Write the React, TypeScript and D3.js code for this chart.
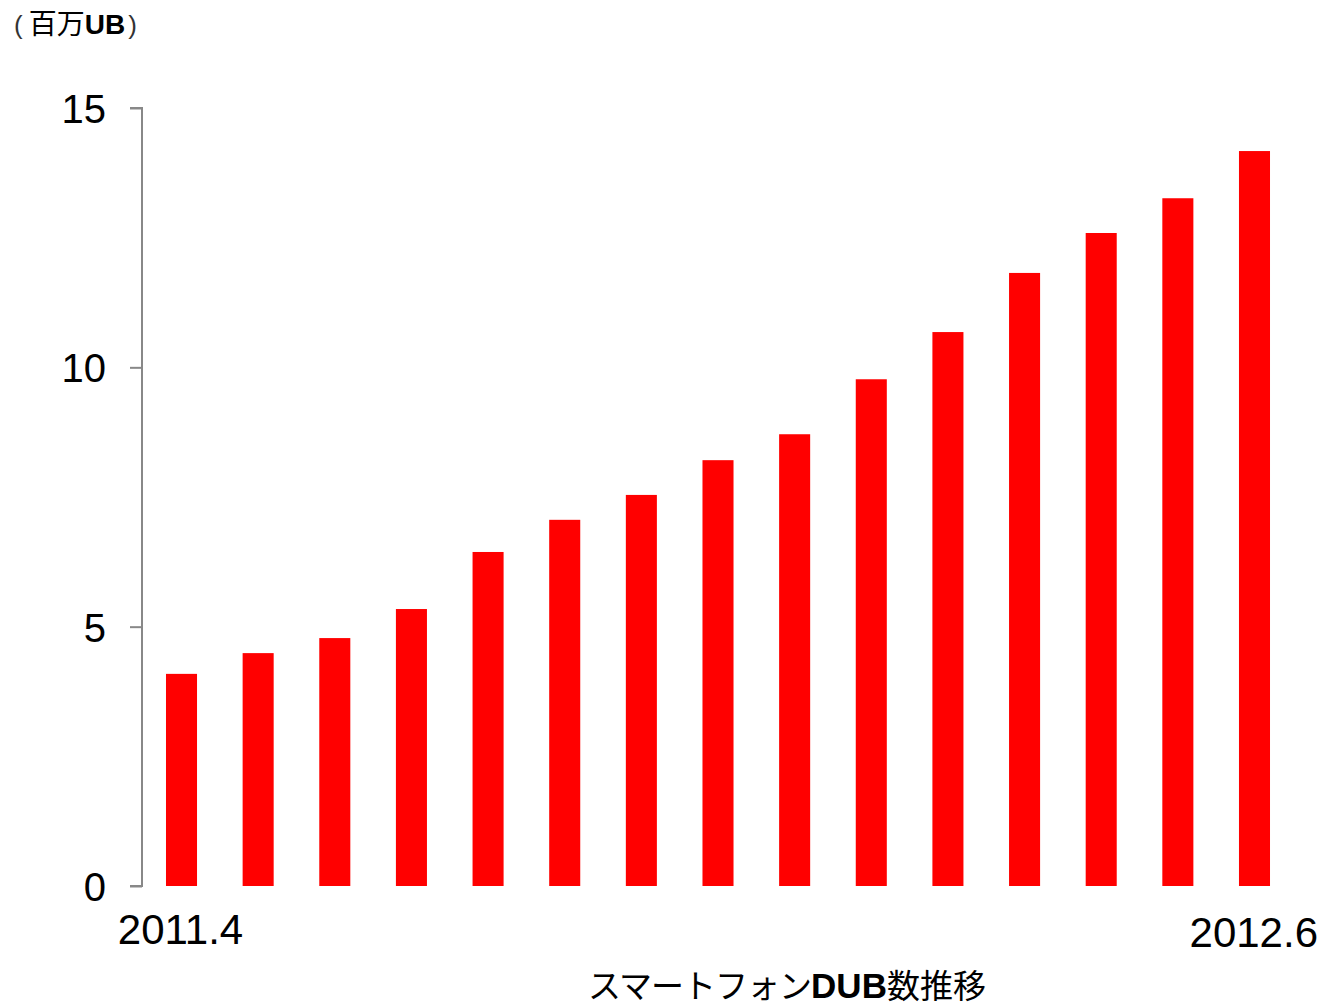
import { useEffect, useRef } from 'react';
import * as d3 from 'd3';

// monthly, 2011.4 .. 2012.6
const months = [
  '2011.4', '2011.5', '2011.6', '2011.7', '2011.8', '2011.9', '2011.10', '2011.11',
  '2011.12', '2012.1', '2012.2', '2012.3', '2012.4', '2012.5', '2012.6',
];
const dubValues = [4.09, 4.49, 4.78, 5.34, 6.44, 7.06, 7.54, 8.21, 8.71, 9.77, 10.68, 11.82, 12.59, 13.26, 14.17];
const yTicks = [0, 5, 10, 15];
const shownLabels = ['2011.4', '2012.6'];

const W = 1326;
const H = 1004;

export default function App() {
  const ref = useRef<SVGSVGElement | null>(null);

  useEffect(() => {
    if (!ref.current) return;
    const svg = d3.select(ref.current);
    svg.selectAll('*').remove();

    const font = '"Liberation Sans", Arial, "Noto Sans CJK JP", sans-serif';

    const x = d3
      .scaleBand<string>()
      .domain(months)
      .range([142, 1294])
      .paddingInner(0.595)
      .paddingOuter(0.313);

    const y = d3.scaleLinear().domain([0, 15]).range([886, 108]);

    // bars
    svg
      .append('g')
      .selectAll('rect')
      .data(months)
      .enter()
      .append('rect')
      .attr('x', d => x(d)!)
      .attr('width', x.bandwidth())
      .attr('y', (_, i) => y(dubValues[i]))
      .attr('height', (_, i) => y(0) - y(dubValues[i]))
      .attr('fill', '#ff0000');

    // y axis
    const ax = svg
      .append('g')
      .attr('transform', 'translate(142,0)')
      .call(d3.axisLeft(y).tickValues(yTicks).tickSize(12).tickPadding(24).tickFormat(d3.format('d')));
    ax.select('.domain').attr('stroke', '#888').attr('stroke-width', 2).attr('d', `M-12,${y(15)}H0V${y(0)}H-12`);
    ax.selectAll('.tick line').attr('stroke', '#888').attr('stroke-width', 2);
    ax.selectAll('.tick text')
      .attr('font-family', font)
      .attr('font-size', 40)
      .attr('fill', '#000')
      .attr('dy', '0.36em');

    // x labels (first and last only)
    svg
      .append('g')
      .selectAll('text')
      .data(shownLabels)
      .enter()
      .append('text')
      .attr('x', (d, i) => (i === 0 ? x(d)! + x.bandwidth() / 2 - 1 : 1318))
      .attr('y', (d, i) => (i === 0 ? 944 : 947))
      .attr('text-anchor', (d, i) => (i === 0 ? 'middle' : 'end'))
      .attr('font-family', font)
      .attr('font-size', 42)
      .attr('fill', '#000')
      .text(d => d);

    // unit label
    const unit = svg
      .append('text')
      .attr('x', 14)
      .attr('y', 34)
      .attr('font-family', font)
      .attr('font-size', 28)
      .attr('fill', '#000');
    unit.append('tspan').attr('font-size', 26).attr('fill', '#333').text('(');
    unit.append('tspan').attr('dx', 6).text('百万');
    unit.append('tspan').attr('font-weight', 'bold').text('UB');
    unit.append('tspan').attr('dx', 3).attr('font-size', 26).attr('fill', '#333').text(')');

    // title
    const title = svg
      .append('text')
      .attr('x', 787)
      .attr('y', 998)
      .attr('text-anchor', 'middle')
      .attr('font-family', font)
      .attr('font-size', 33)
      .attr('fill', '#000');
    title.append('tspan').attr('letter-spacing', -1).text('スマートフォン');
    title.append('tspan').attr('font-weight', 'bold').attr('font-size', 35).text('DUB');
    title.append('tspan').text('数推移');
  }, []);

  return (
    <svg
      ref={ref}
      width={W}
      height={H}
      style={{ position: 'absolute', left: 0, top: 0, background: '#fff' }}
    ></svg>
  );
}
